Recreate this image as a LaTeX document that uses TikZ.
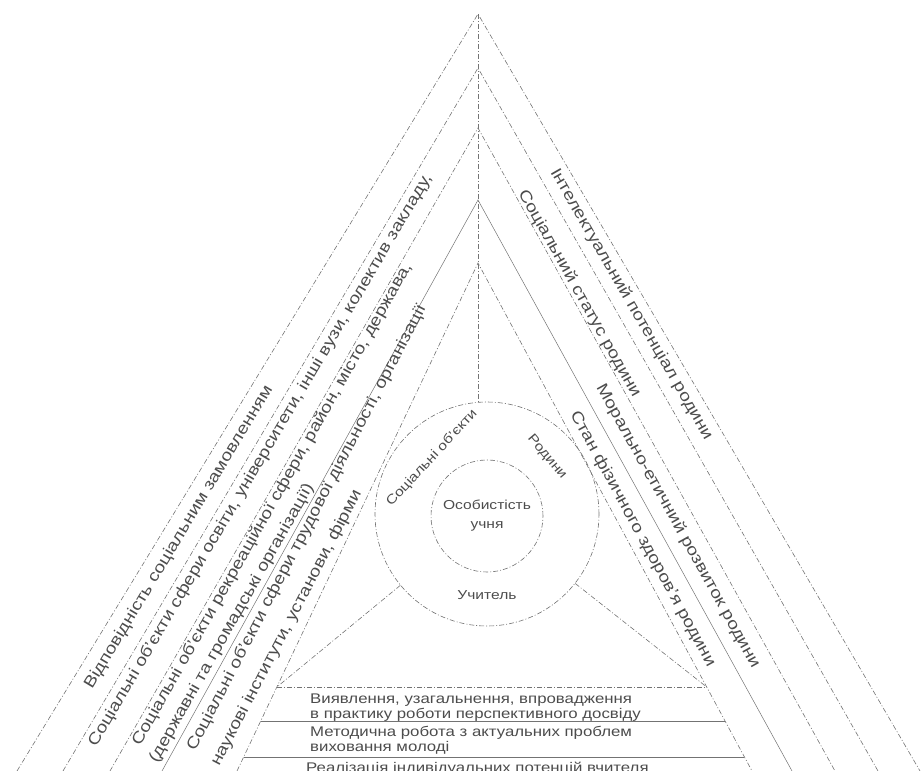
\documentclass[tikz,border=0pt]{standalone}
\usepackage{fontspec}
\setmainfont{Liberation Sans}[FakeStretch=1.2]
\usetikzlibrary{positioning}

\begin{document}
\begin{tikzpicture}[x=1pt, y=-1pt,
  edge/.style={draw=black!55, line width=0.6pt, dash pattern=on 5pt off 2pt on 1pt off 2pt},
  plainedge/.style={draw=black!55, line width=0.5pt},
  band/.style={text=black!70, font=\fontsize{16}{19}\selectfont, inner sep=0pt, anchor=base west},
  boxtext/.style={text=black!70, font=\fontsize{14}{16}\selectfont, inner sep=0pt, anchor=base west},
  ring/.style={text=black!70, font=\fontsize{13}{15}\selectfont, inner sep=0pt}
]
\useasboundingbox (0,0) rectangle (924,771);

% Apexes and feet of the nested triangles
\coordinate (a0) at (478,14);
\coordinate (a1) at (478,68);
\coordinate (a2) at (478,128);
\coordinate (a3) at (478,200);
\coordinate (a4) at (478,263);
\coordinate (l0) at (17,771);
\coordinate (l1) at (63,771);
\coordinate (l2) at (110,771);
\coordinate (l3) at (162,771);
\coordinate (l4) at (237,771);
\coordinate (r0) at (920,771);
\coordinate (r1) at (878,771);
\coordinate (r2) at (835,771);
\coordinate (r3) at (792,771);
\coordinate (r4) at (752,771);

% Triangle sides
\draw [edge] (l0) -- (a0) -- (r0);
\draw [edge] (l1) -- (a1) -- (r1);
\draw [edge] (l2) -- (a2) -- (r2);
\draw [plainedge] (l3) -- (a3) -- (r3);
\draw [edge] (l4) -- (a4) -- (r4);

% Circles
\node (outer) [circle, edge, minimum size=224pt, inner sep=0pt] at (487,514) {};
\node (inner) [circle, edge, minimum size=112pt, inner sep=0pt, text=black!70,
  font=\fontsize{13}{19}\selectfont, align=center] at (487,516) {Особистість\\учня};
\node (socring) [ring, rotate=47] at (432,458) {Соціальні об'єкти};
\node (famring) [ring, rotate=-50] at (547,457) {Родини};
\node (teachring) [ring] at (487,595) {Учитель};

% Box rows at the base
\coordinate (h1w) at (0,687);   \coordinate (h1e) at (924,687);
\coordinate (h2w) at (0,721);   \coordinate (h2e) at (924,721);
\coordinate (h3w) at (0,757);   \coordinate (h3e) at (924,757);
\coordinate (b1l) at (intersection of a4--l4 and h1w--h1e);
\coordinate (b1r) at (intersection of a4--r4 and h1w--h1e);
\coordinate (b2l) at (intersection of a4--l4 and h2w--h2e);
\coordinate (b2r) at (intersection of a4--r4 and h2w--h2e);
\coordinate (b3l) at (intersection of a4--l4 and h3w--h3e);
\coordinate (b3r) at (intersection of a4--r4 and h3w--h3e);
\draw [edge] (b1l) -- (b1r);
\draw [plainedge] (b2l) -- (b2r);
\draw [plainedge] (b3l) -- (b3r);

% Sector lines
\draw [edge] (a0) -- (a0 |- outer.north);
\draw [edge] (outer) -- (b1l);
\draw [edge] (outer) -- (b1r);

% Left bands
\node (soc1) [band, rotate=59] at (92,690) {Відповідність соціальним замовленням};
\node (soc2) [band, rotate=59.5] at (96,748) {Соціальні об'єкти сфери освіти, університети, інші вузи, колектив закладу,};
\node (soc3a) [band, rotate=60.5] at (140,747) {Соціальні об'єкти рекреаційної сфери, район, місто, держава,};
\node (soc3b) [band, rotate=60.5] at (157,764) {(державні та громадські організації)};
\node (soc4a) [band, rotate=62.5] at (195,752) {Соціальні об'єкти сфери трудової діяльності, організації};
\node (soc4b) [band, rotate=62.5] at (219,767) {наукові інститути, установи, фірми};

% Right bands
\node (fam1) [band, rotate=-60] at (550,172) {Інтелектуальний потенціал родини};
\node (fam2) [band, rotate=-60.7] at (518,193) {Соціальний статус родини};
\node (fam3) [band, rotate=-61] at (596,387) {Морально-етичний розвиток родини};
\node (fam4) [band, rotate=-61.5] at (570,414) {Стан фізичного здоров'я родини};

% Base rows
\node (row1a) [boxtext] at (310,703) {Виявлення, узагальнення, впровадження};
\node (row1b) [boxtext] at (310,718) {в практику роботи перспективного досвіду};
\node (row2a) [boxtext] at (310,736) {Методична робота з актуальних проблем};
\node (row2b) [boxtext] at (310,751) {виховання молоді};
\node (row3) [boxtext] at (306,772) {Реалізація індивідуальних потенцій вчителя};
\end{tikzpicture}
\end{document}
